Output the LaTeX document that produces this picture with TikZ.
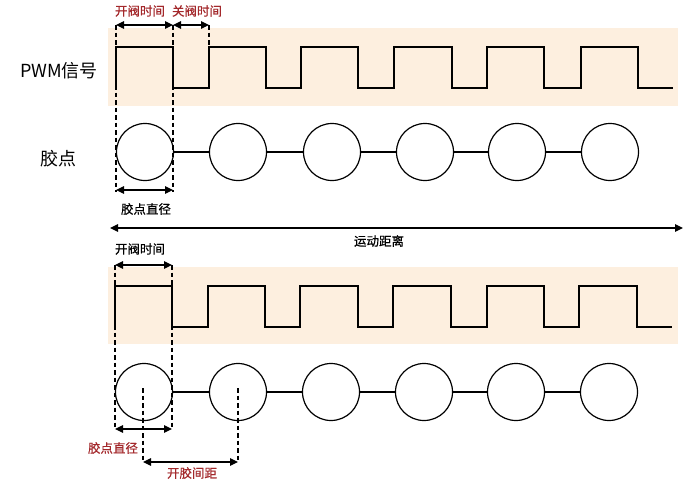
\documentclass[tikz,border=0pt]{standalone}
\usepackage{fontspec}
\setmainfont{Noto Sans CJK SC}
\newfontfamily\medfont[FakeBold=0.6]{Noto Sans CJK SC}
\usetikzlibrary{arrows.meta}
\definecolor{band}{HTML}{FDEFDF}
\definecolor{lbred}{HTML}{A3282B}
\tikzset{
  wave/.style={line width=1.4pt, line join=miter},
  dot/.style={circle, draw, line width=1.2pt, minimum size=57pt, inner sep=0pt},
  link/.style={line width=1.2pt},
  guide/.style={line width=1.1pt, dash pattern=on 4.5pt off 3pt},
  dim/.style={line width=1.2pt, {Triangle[length=8pt,width=7.5pt]}-{Triangle[length=8pt,width=7.5pt]}},
  biglabel/.style={font=\fontsize{18}{20}\selectfont, inner sep=0pt},
  small/.style={font=\medfont\fontsize{12.5}{14}\selectfont, inner sep=0pt},
  redlabel/.style={small, text=lbred},
}
\begin{document}
\begin{tikzpicture}[x=1pt,y=-1pt]
\useasboundingbox (0,0) rectangle (695,490);
% bands
\fill[band] (108,28) rectangle (678,106);
\fill[band] (108,267) rectangle (678,344);
% waveforms
\draw[wave] (116,88) -- (116,47) -- (173,47) -- (173,88) -- (209,88) -- (209,47)
  -- (266,47) -- (266,88) -- (301,88) -- (301,47) -- (358,47) -- (358,88)
  -- (394,88) -- (394,47) -- (452,47) -- (452,88) -- (487,88) -- (487,47)
  -- (544,47) -- (544,88) -- (581,88) -- (581,47) -- (638,47) -- (638,88) -- (673,88);
\draw[wave] (115,327) -- (115,286) -- (172,286) -- (172,327) -- (208,327) -- (208,286)
  -- (265,286) -- (265,327) -- (300,327) -- (300,286) -- (358,286) -- (358,327)
  -- (393,327) -- (393,286) -- (451,286) -- (451,327) -- (487,327) -- (487,286)
  -- (544,286) -- (544,327) -- (579,327) -- (579,286) -- (637,286) -- (637,327) -- (672,327);
% labels
\node[biglabel] (pwm) at (59,71) {PWM信号};
\node[biglabel] (jd) at (58,159) {胶点};
% top circles
\foreach \i/\x in {1/145,2/238,3/332,4/425,5/517,6/610}
  \node[dot] (a\i) at (\x,152) {};
\foreach \i/\j in {1/2,2/3,3/4,4/5,5/6}
  \draw[link] (a\i) -- (a\j);
% bottom circles
\foreach \i/\x in {1/144,2/238,3/331,4/424,5/516,6/609}
  \node[dot] (b\i) at (\x,392) {};
\foreach \i/\j in {1/2,2/3,3/4,4/5,5/6}
  \draw[link] (b\i) -- (b\j);
% top guides
\coordinate (t1) at (116,25); \coordinate (t1b) at (116,192);
\coordinate (t2) at (173,25); \coordinate (t2b) at (173,192);
\coordinate (t3) at (209,25); \coordinate (t3b) at (209,47);
\draw[guide] (t1) -- (t1b);
\draw[guide] (t2) -- (t2b);
\draw[guide] (t3) -- (t3b);
\draw[dim] (t1) -- (t2);
\draw[dim] (t2) -- (t3);
\coordinate (d1) at (116,190); \coordinate (d2) at (173,190);
\draw[dim] (d1) -- (d2);
\node[redlabel] (open1) at (140,11) {开阀时间};
\node[redlabel] (close1) at (197,11) {关阀时间};
\node[small] (dia1) at (146,209) {胶点直径};
% motion distance
\coordinate (m1) at (110,228); \coordinate (m2) at (683,228);
\draw[dim] (m1) -- (m2);
\node[small] (motion) at (379,241) {运动距离};
% bottom guides
\coordinate (u1) at (115,265); \coordinate (u1b) at (115,430);
\coordinate (u2) at (172,265); \coordinate (u2b) at (172,430);
\coordinate (v1) at (143,388); \coordinate (v1b) at (143,462);
\coordinate (v2) at (238,388); \coordinate (v2b) at (238,462);
\draw[guide] (u1) -- (u1b);
\draw[guide] (u2) -- (u2b);
\draw[guide] (v1) -- (v1b);
\draw[guide] (v2) -- (v2b);
\draw[dim] (u1) -- (u2);
\coordinate (e1) at (115,429); \coordinate (e2) at (172,429);
\draw[dim] (e1) -- (e2);
\draw[dim] (v1b) -- (v2b);
\node[small] (open2) at (140,249) {开阀时间};
\node[redlabel] (dia2) at (113,448) {胶点直径};
\node[redlabel] (gap) at (192,473) {开胶间距};
\end{tikzpicture}
\end{document}
